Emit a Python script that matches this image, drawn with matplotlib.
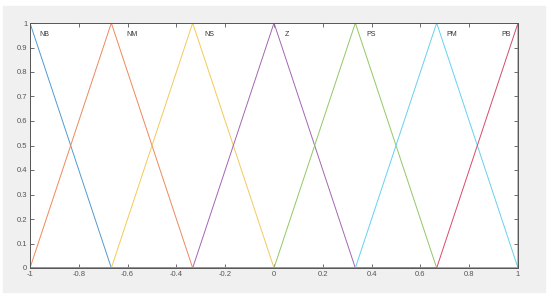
import numpy as np
import matplotlib.pyplot as plt
from matplotlib.patches import Rectangle

plt.rcParams['font.family'] = ['Liberation Sans', 'DejaVu Sans']
plt.rcParams['axes.unicode_minus'] = False

# triangular membership functions [a, b, c]
names = ['NB', 'NM', 'NS', 'Z', 'PS', 'PM', 'PB']
params = [[-1.0, -1.0, -2/3],
          [-1.0, -2/3, -1/3],
          [-2/3, -1/3, 0.0],
          [-1/3, 0.0, 1/3],
          [0.0, 1/3, 2/3],
          [1/3, 2/3, 1.0],
          [2/3, 1.0, 1.0]]
label_x = [-0.96, -0.605, -0.285, 0.045, 0.38, 0.705, 0.93]
label_y = 0.955
colors = ['#4f9ad6', '#f0875a', '#f4c95a', '#a466b2', '#93c763', '#63d2f0', '#d84a68']

fig = plt.figure(figsize=(5.5, 2.98), dpi=100, facecolor='white')
fig.patches.append(Rectangle((3/550, 1-292/298), 542/550, 286/298,
                             transform=fig.transFigure, color='#f0f0f0', zorder=-1))
ax = fig.add_axes([30/550, 1-268/298, 488/550, 245/298])
ax.set_facecolor('white')

for p, c in zip(params, colors):
    xs = [-1.0, p[0], p[1], p[2], 1.0]
    ys = [0, 0, 1, 0, 0]
    ax.plot(xs, ys, color=c, lw=0.7)

for n, lx in zip(names, label_x):
    ax.text(lx, label_y, n, fontsize=5, va='center', ha='left', color='#333333')

ax.set_xlim(-1, 1)
ax.set_ylim(0, 1)
ax.set_xticks(np.arange(-1, 1.01, 0.2))
ax.set_xticklabels(['-1', '-0.8', '-0.6', '-0.4', '-0.2', '0', '0.2', '0.4', '0.6', '0.8', '1'])
ax.set_yticks(np.arange(0, 1.01, 0.1))
ax.set_yticklabels(['0', '0.1', '0.2', '0.3', '0.4', '0.5', '0.6', '0.7', '0.8', '0.9', '1'])
ax.tick_params(direction='in', top=True, right=True, length=3, width=0.6,
               labelsize=5.5, colors='#555555', pad=2)
for s in ax.spines.values():
    s.set_color('#555555')
    s.set_linewidth(0.7)

plt.savefig('out.png', dpi=100, facecolor='white')
